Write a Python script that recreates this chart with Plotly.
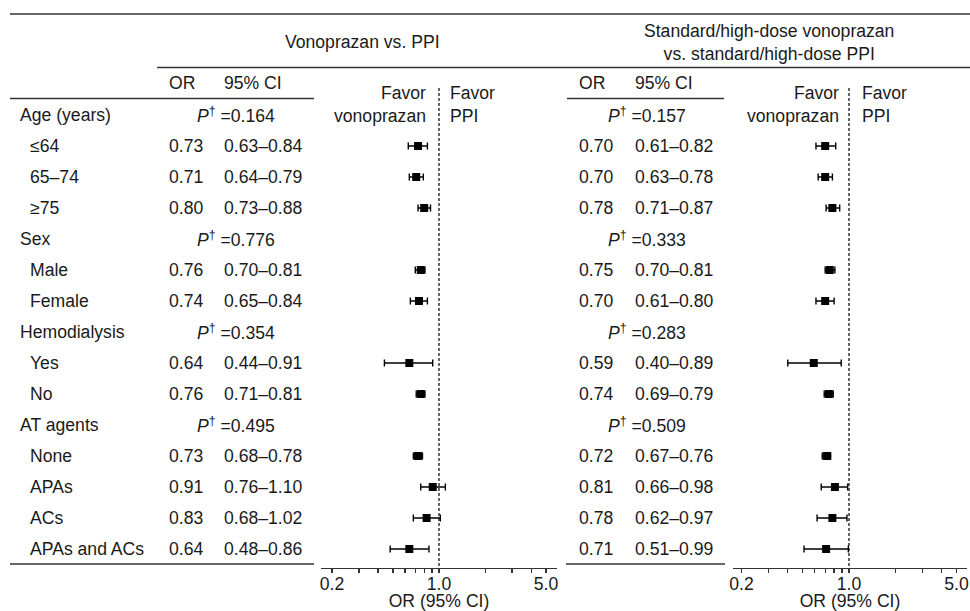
import plotly.graph_objects as go

# ---------------- data ----------------
row_labels = ["Age (years)", "≤64", "65–74", "≥75", "Sex", "Male", "Female",
              "Hemodialysis", "Yes", "No", "AT agents", "None", "APAs", "ACs",
              "APAs and ACs"]
group_rows = [0, 4, 7, 10]
sub_rows = [1, 2, 3, 5, 6, 8, 9, 11, 12, 13, 14]

or1 = [0.73, 0.71, 0.80, 0.76, 0.74, 0.64, 0.76, 0.73, 0.91, 0.83, 0.64]
lo1 = [0.63, 0.64, 0.73, 0.70, 0.65, 0.44, 0.71, 0.68, 0.76, 0.68, 0.48]
hi1 = [0.84, 0.79, 0.88, 0.81, 0.84, 0.91, 0.81, 0.78, 1.10, 1.02, 0.86]
p1 = ["0.164", "0.776", "0.354", "0.495"]

or2 = [0.70, 0.70, 0.78, 0.75, 0.70, 0.59, 0.74, 0.72, 0.81, 0.78, 0.71]
lo2 = [0.61, 0.63, 0.71, 0.70, 0.61, 0.40, 0.69, 0.67, 0.66, 0.62, 0.51]
hi2 = [0.82, 0.78, 0.87, 0.81, 0.80, 0.89, 0.79, 0.76, 0.98, 0.97, 0.99]
p2 = ["0.157", "0.333", "0.283", "0.509"]

tick_vals = [0.2, 0.3, 0.4, 0.5, 0.6, 0.7, 0.8, 0.9, 1, 2, 3, 4, 5]
tick_text = ["0.2", "", "", "", "", "", "", "", "1.0", "", "", "", "5.0"]

title1 = "Vonoprazan vs. PPI"
title2 = "Standard/high-dose vonoprazan<br>vs. standard/high-dose PPI"

# ---------------- layout helpers ----------------
W, H = 970, 611
FONT = "Arial, Liberation Sans, sans-serif"
FS = 17.6
TXT = "#1a1a1a"


def X(p):
    return p / W


def Y(p):
    return 1 - p / H


ROW0, ROWSTEP, AXIS_PX = 115, 31, 567.5
y_top = (0 - ROW0) / ROWSTEP
y_bot = (AXIS_PX - ROW0) / ROWSTEP

fig = go.Figure()

for xa, ors, los, his in (("x", or1, lo1, hi1), ("x2", or2, lo2, hi2)):
    fig.add_trace(go.Scatter(
        x=ors, y=sub_rows, xaxis=xa, yaxis="y", mode="markers",
        marker=dict(symbol="square", size=8, color="black"),
        error_x=dict(type="data", symmetric=False,
                     array=[h - o for h, o in zip(his, ors)],
                     arrayminus=[o - l for o, l in zip(ors, los)],
                     color="black", thickness=1.4, width=3.5),
        showlegend=False, hoverinfo="skip"))

ann = []


def txt(x, y, s, xanchor="left", yref="y", align="left"):
    ann.append(dict(x=x, y=y, xref="paper", yref=yref, text=s, showarrow=False,
                    xanchor=xanchor, yanchor="middle", align=align,
                    font=dict(family=FONT, size=FS, color=TXT)))


# row labels
for i, lab in enumerate(row_labels):
    txt(X(18 if i in group_rows else 28), i, lab)

# numeric columns
for k, r in enumerate(sub_rows):
    txt(X(167), r, f"{or1[k]:.2f}")
    txt(X(222), r, f"{lo1[k]:.2f}–{hi1[k]:.2f}")
    txt(X(577), r, f"{or2[k]:.2f}")
    txt(X(633), r, f"{lo2[k]:.2f}–{hi2[k]:.2f}")

for k, r in enumerate(group_rows):
    txt(X(236), r, "<i>P</i><sup>†</sup> =" + p1[k], xanchor="center")
    txt(X(647), r, "<i>P</i><sup>†</sup> =" + p2[k], xanchor="center")

# headers
txt(X(362), Y(42), title1, xanchor="center", yref="paper")
txt(X(769), Y(42.5), title2, xanchor="center", yref="paper", align="center")
for ox, cx in ((167, 222), (577, 633)):
    txt(X(ox), Y(83), "OR", yref="paper")
    txt(X(cx), Y(83), "95% CI", yref="paper")

# favor labels
for right_px, left_px in ((428, 448), (841, 860)):
    txt(X(right_px), Y(104), "Favor<br>vonoprazan", xanchor="right",
        yref="paper", align="right")
    txt(X(left_px), Y(104), "Favor<br>PPI", xanchor="left", yref="paper")

shapes = []


def hline(x0, x1, ypx, w=1.3):
    shapes.append(dict(type="line", xref="paper", yref="paper",
                       x0=X(x0), x1=X(x1), y0=Y(ypx), y1=Y(ypx),
                       line=dict(color="#333333", width=w)))


hline(10, 970, 14, 1.5)
hline(157, 970, 67.5)
hline(10, 314, 98.5)
hline(567, 724, 98.5)
hline(10, 314, 564)
hline(566, 725, 564)

for xr in ("x", "x2"):
    shapes.append(dict(type="line", xref=xr, yref="paper", x0=1, x1=1,
                       y0=Y(88), y1=Y(AXIS_PX),
                       line=dict(color="black", width=1.2, dash="3px,2px")))

axis_common = dict(
    type="log", tickvals=tick_vals, ticktext=tick_text, ticks="outside",
    ticklen=4, tickwidth=1.2, tickcolor="#333333", showline=True,
    linecolor="#333333", linewidth=1.3, showgrid=False, zeroline=False,
    tickfont=dict(family=FONT, size=FS, color=TXT), ticklabelstandoff=-4,
    anchor="y", automargin=False,
    title=dict(text="OR (95% CI)", font=dict(family=FONT, size=FS, color=TXT),
               standoff=0),
)

fig.update_layout(
    width=W, height=H, margin=dict(l=0, r=0, t=0, b=0),
    paper_bgcolor="white", plot_bgcolor="white",
    xaxis=dict(domain=[X(321), X(557)], range=[-0.7705, 0.7705], **axis_common),
    xaxis2=dict(domain=[X(733), X(967)], range=[-0.754, 0.767], **axis_common),
    yaxis=dict(domain=[1 - AXIS_PX / H, 1], range=[y_bot, y_top], visible=False,
               automargin=False),
    annotations=ann, shapes=shapes, showlegend=False,
)

fig.write_html("out.html",
               config={"displayModeBar": False, "staticPlot": True},
               post_script="document.body.style.margin='0';"
                           "document.body.style.overflow='hidden';")
